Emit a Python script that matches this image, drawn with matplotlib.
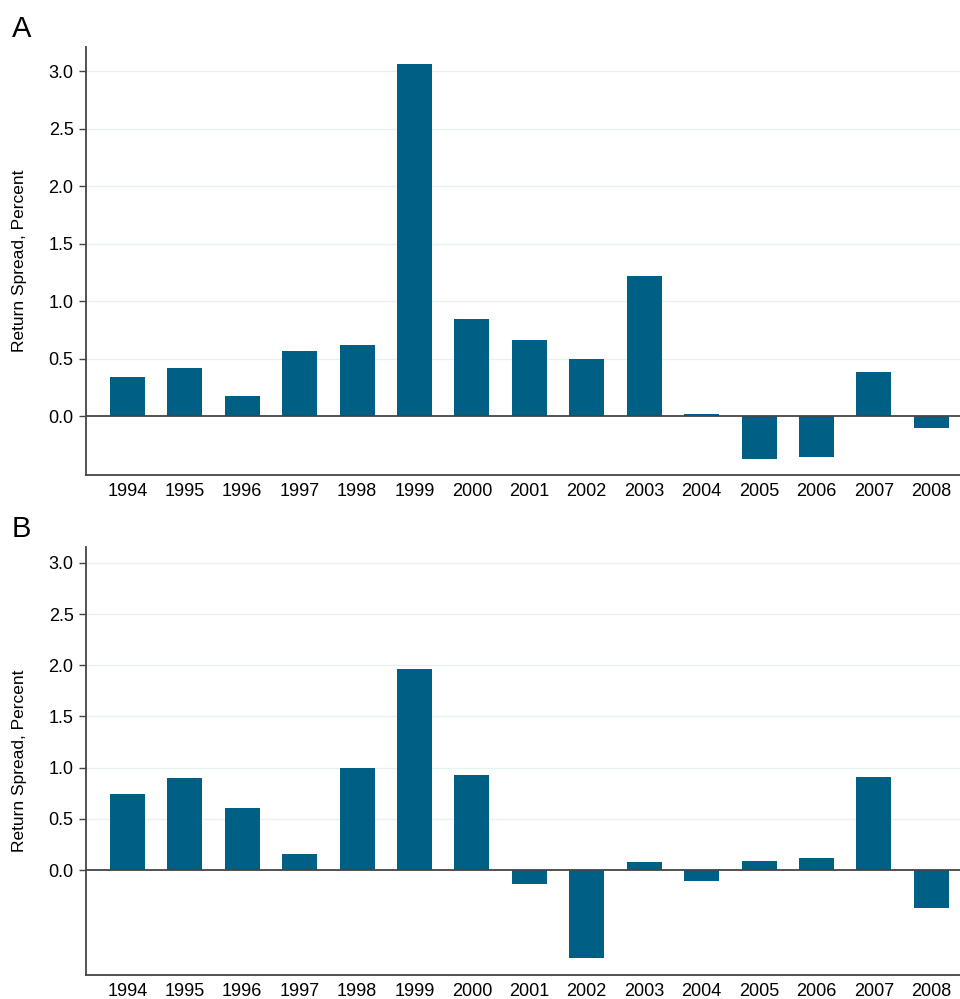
import matplotlib
matplotlib.use("Agg")
import matplotlib.pyplot as plt
import numpy as np

plt.rcParams['font.family'] = ['Liberation Sans', 'DejaVu Sans']

years = [str(y) for y in range(1994, 2009)]
spread_a = [0.34, 0.42, 0.17, 0.57, 0.62, 3.06, 0.84, 0.66, 0.50, 1.22, 0.02, -0.37, -0.36, 0.38, -0.10]
spread_b = [0.74, 0.90, 0.61, 0.16, 1.00, 1.96, 0.93, -0.14, -0.86, 0.08, -0.11, 0.09, 0.12, 0.91, -0.37]
yticks = [0.0, 0.5, 1.0, 1.5, 2.0, 2.5, 3.0]

bar_color = "#005f85"
axis_color = "#444444"

fig = plt.figure(figsize=(9.6, 9.99), dpi=100)
ax_a = fig.add_axes([0.0896, 0.5245, 0.9104, 0.4285])
ax_b = fig.add_axes([0.0896, 0.024, 0.9104, 0.4285])


def draw_panel(ax, values, ylim, letter):
    x = np.arange(len(years))
    ax.bar(x, values, width=0.61, color=bar_color, zorder=3)
    ax.axhline(0, color=axis_color, lw=1.3, zorder=4)
    ax.set_xlim(-0.72, len(years) - 0.5)
    ax.set_ylim(*ylim)
    ax.set_yticks(yticks)
    ax.set_yticklabels([f"{t:.1f}" for t in yticks])
    ax.set_xticks(x)
    ax.set_xticklabels(years)
    ax.tick_params(axis="x", length=0, labelsize=13, pad=6)
    ax.tick_params(axis="y", length=5, width=1, color=axis_color, labelsize=13, pad=4)
    for t in yticks[1:]:
        ax.axhline(t, color="#e6f1f2", lw=0.9, zorder=1)
    for side in ("top", "right"):
        ax.spines[side].set_visible(False)
    for side in ("left", "bottom"):
        ax.spines[side].set_color(axis_color)
        ax.spines[side].set_linewidth(1.3)
    ax.set_ylabel("Return Spread, Percent", fontsize=12.5)
    ax.yaxis.set_label_coords(-0.068, 0.5)
    ax.text(-0.085, 1.01, letter, transform=ax.transAxes, fontsize=21, va="bottom", ha="left")


draw_panel(ax_a, spread_a, (-0.513, 3.21), "A")
draw_panel(ax_b, spread_b, (-1.026, 3.156), "B")

fig.savefig("out.png", dpi=100)
